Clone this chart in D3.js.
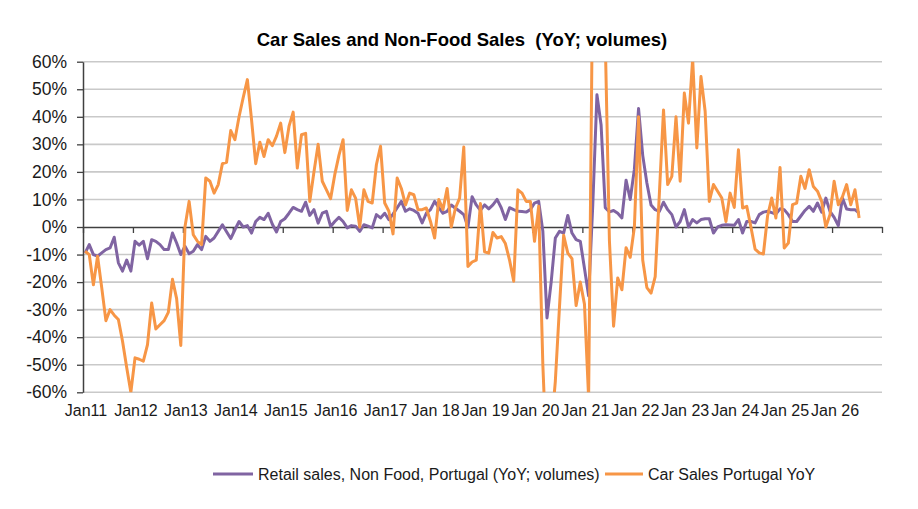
<!DOCTYPE html>
<html>
<head>
<meta charset="utf-8">
<script src="https://cdn.jsdelivr.net/npm/d3@7"></script>
<style>
  html, body { margin: 0; padding: 0; background: #fff; }
  svg { display: block; font-family: "Liberation Sans", Arial, sans-serif; }
</style>
</head>
<body>
<svg id="chart" width="918" height="509"></svg>
<script>
// ---- Data (monthly, starting Jan 2011) ----
const startYear = 2011;
const tickLabels = ["Jan11","Jan12","Jan13","Jan14","Jan15","Jan16","Jan17","Jan 18","Jan 19","Jan 20","Jan 21","Jan 22","Jan 23","Jan 24","Jan 25","Jan 26"];
const yTicks = [-60,-50,-40,-30,-20,-10,0,10,20,30,40,50,60];
const seriesNames = ["Retail sales, Non Food, Portugal (YoY; volumes)", "Car Sales Portugal YoY"];

const retailNonFood = [
  -9.5,-6.4,-10,-10.6,-9.4,-8.2,-7.6,-3.7,-13,-16,-12,-16,
  -5.2,-6.6,-5.2,-11.5,-4.6,-5.2,-6.4,-8.2,-8.2,-2.2,-5.8,-10,
  -7,-9.7,-8.8,-6.4,-8.2,-3.4,-5.2,-4,-1.6,0.8,-1.7,-4.2,
  -1,2,0,0.5,-2.2,2,3.5,2.7,5,1,-1.8,2,
  3,5,7.1,6.3,5.7,9,4.2,6.3,1.4,5,5.7,0.2,
  2,3.5,2,-0.3,0.5,0.3,-1.6,0.8,0.3,-0.3,4.5,3.3,
  5,2.7,4.7,7,9.3,5.7,6.6,6,5,1.5,5,6.3,
  9.3,7,5,5.7,8,6.8,5.7,4.5,0,11,8,6,
  8,6.6,8,10,7,2.7,7,6.3,5.7,5.6,5.4,6.3,
  8.7,9.3,-1.5,-33,-20,-4,-1.6,-2.2,4.2,-2.2,-4.6,-5.2,
  -15,-25,8,48,37,7,5.5,6,5,3.3,17,10,
  21,43,26,16,8,6.3,5.7,9,6.3,4.5,0,2,
  6.3,0,2.7,1.5,2.7,3,3,-2.2,0,0.6,0.8,0.7,
  0.6,2.7,-2.2,2,2,1.5,4.5,5.4,5.7,5.2,4.7,6.6,
  6.3,4.5,2,2,4,6,7.5,5.7,8.7,5.4,10.5,5.7,
  3.5,0.5,10.5,6.5,6.3,6.3,5
];

const carSales = [
  -8.8,-10,-21,-10.6,-22,-34,-30,-32,-33.6,-41.5,-51,-60,
  -47.5,-48,-48.7,-42.7,-27.6,-37,-35.5,-34,-31,-19,-26,-43,
  0,9.3,-2.8,-5.2,-6.4,17.8,16.6,12.3,15.4,23,23.5,35,
  31.7,40,47,53.5,39,23,30.8,25.6,31.7,29.5,33,37.7,
  27,36.5,41.7,21.4,33.5,34,9.3,20,30,16.6,13.5,10.3,
  19,26,31.7,6,13.5,10.5,0,13.5,9.3,8.7,22.6,29.3,
  8.7,5.7,-2.5,17.8,14,8,12.3,11.7,6.3,6.3,6.9,2,
  -4,10,6.3,14,0,6.9,10.5,29,-14.3,-12.7,-12,8.5,
  -9,-9.5,-2,-4,-3.5,-6,-12,-19.7,13.5,12.3,9.3,9.3,
  -5.2,7.5,-50,-87,-74,-56,-29,-3,-9.5,-11.5,-28.5,-20,
  -28,-62,95,180,140,68,-5,-36,-18.5,-22.8,-7.5,-11,
  0,40,-12,-22,-24,-18,12,42.5,15.4,18.4,40,16.6,
  48.6,37.7,61,28.7,54.6,42,9.3,15.4,13,10.5,2,12.3,
  7.1,28,6.9,7.5,0,-8,-9.4,-9.8,4,10.5,3.3,21.6,
  -7.6,-5.8,8.1,8.7,18.4,14,20.8,14.7,13,9.3,0,4.5,
  16.6,8.1,11,15.4,8.1,13.5,3.3
];

const colors = ["#8064A2", "#F79646"];

// ---- Layout ----
const svg = d3.select("#chart");
const plot = { left: 83, right: 882, top: 61.7, bottom: 392.3 };

const x = d3.scaleLinear().domain([0, 192]).range([plot.left, plot.right]);
const y = d3.scaleLinear().domain([-60, 60]).range([plot.bottom, plot.top]);

// Title
svg.append("text")
  .attr("x", 462).attr("y", 46)
  .attr("text-anchor", "middle")
  .style("font-weight", "bold").style("font-size", "18.5px")
  .style("white-space", "pre")
  .attr("fill", "#000")
  .text("Car Sales and Non-Food Sales  (YoY; volumes)");

// Gridlines
svg.append("g").selectAll("line")
  .data(yTicks.filter(d => d !== 0))
  .join("line")
  .attr("x1", plot.left).attr("x2", plot.right)
  .attr("y1", d => y(d)).attr("y2", d => y(d))
  .attr("stroke", "#c9c9c9").attr("stroke-width", 1.6);

// Y axis
const yAxis = d3.axisLeft(y).tickValues(yTicks).tickFormat(d => d + "%").tickSize(6).tickSizeOuter(0);
const gy = svg.append("g").attr("transform", `translate(${plot.left},0)`).call(yAxis);
gy.select(".domain").attr("stroke", "#404040").attr("stroke-width", 1.5);
gy.selectAll(".tick line").attr("stroke", "#404040").attr("stroke-width", 1.3);
gy.selectAll(".tick text")
  .attr("x", -16)
  .style("font-size", "17.5px").style("font-family", "'Liberation Sans', Arial, sans-serif")
  .attr("fill", "#1a1a1a");

// X axis line at zero with year ticks
const xTickVals = d3.range(0, 193, 12);
const xAxis = d3.axisBottom(x).tickValues(xTickVals).tickFormat("").tickSize(6).tickSizeOuter(0);
const gx = svg.append("g").attr("transform", `translate(0,${y(0)})`).call(xAxis);
gx.select(".domain").attr("stroke", "#404040").attr("stroke-width", 1.5);
gx.selectAll(".tick line").attr("stroke", "#404040").attr("stroke-width", 1.3);

// X labels at bottom
svg.append("g").selectAll("text")
  .data(tickLabels)
  .join("text")
  .attr("x", (d, i) => x(i * 12) + 3)
  .attr("y", 416)
  .attr("text-anchor", "middle")
  .style("font-size", "16px")
  .attr("fill", "#1a1a1a")
  .text(d => d);

// Lines
svg.append("defs").append("clipPath").attr("id", "clip")
  .append("rect")
  .attr("x", plot.left).attr("y", plot.top)
  .attr("width", plot.right - plot.left).attr("height", plot.bottom - plot.top);

const line = d3.line().x((d, i) => x(i + 0.5)).y(d => y(d)).curve(d3.curveLinear);

const g = svg.append("g").attr("clip-path", "url(#clip)");
g.append("path").datum(retailNonFood)
  .attr("d", line).attr("fill", "none")
  .attr("stroke", colors[0]).attr("stroke-width", 3).attr("stroke-linejoin", "round");
g.append("path").datum(carSales)
  .attr("d", line).attr("fill", "none")
  .attr("stroke", colors[1]).attr("stroke-width", 3).attr("stroke-linejoin", "round");

// Legend
const legend = [
  { name: seriesNames[0], color: colors[0], x1: 213, x2: 253, tx: 258 },
  { name: seriesNames[1], color: colors[1], x1: 605, x2: 643, tx: 648 }
];
const lg = svg.append("g");
legend.forEach(l => {
  lg.append("line").attr("x1", l.x1).attr("x2", l.x2).attr("y1", 474).attr("y2", 474)
    .attr("stroke", l.color).attr("stroke-width", 3);
  lg.append("text").attr("x", l.tx).attr("y", 479.5)
    .style("font-size", "16px").attr("fill", "#1a1a1a").text(l.name);
});
</script>
</body>
</html>
